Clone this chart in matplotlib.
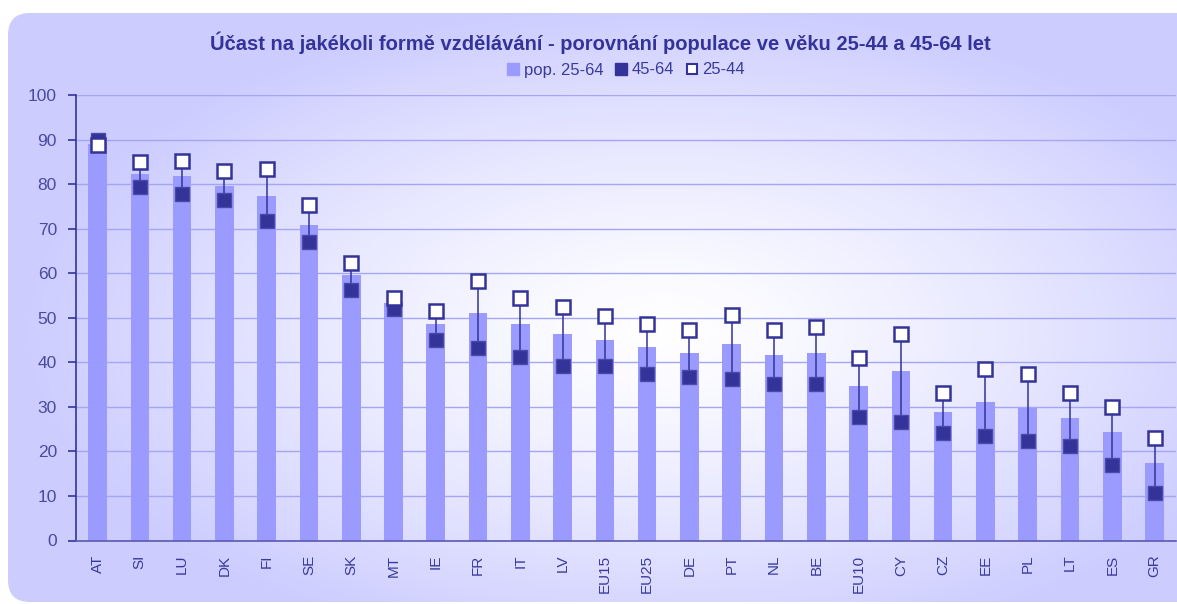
import numpy as np
import matplotlib
matplotlib.use("Agg")
import matplotlib.pyplot as plt
from matplotlib.patches import FancyBboxPatch
from matplotlib.lines import Line2D

# data
zeme = ["AT", "SI", "LU", "DK", "FI", "SE", "SK", "MT", "IE", "FR", "IT", "LV", "EU15",
        "EU25", "DE", "PT", "NL", "BE", "EU10", "CY", "CZ", "EE", "PL", "LT", "ES", "GR"]
pop_25_64 = [89.0, 82.2, 81.8, 79.6, 77.3, 70.8, 59.6, 53.3, 48.5, 51.0, 48.5, 46.3, 44.9,
             43.4, 42.0, 44.0, 41.6, 42.0, 34.6, 38.0, 28.8, 31.2, 29.8, 27.6, 24.3, 17.5]
vek_45_64 = [90.0, 79.3, 77.8, 76.5, 71.7, 66.9, 56.3, 52.0, 45.0, 43.1, 41.3, 39.2, 39.2,
             37.3, 36.6, 36.3, 35.1, 35.1, 27.8, 26.7, 24.2, 23.4, 22.3, 21.2, 16.9, 10.6]
vek_25_44 = [88.8, 84.9, 85.2, 83.0, 83.4, 75.3, 62.2, 54.5, 51.6, 58.2, 54.5, 52.4, 50.5,
             48.7, 47.2, 50.6, 47.2, 47.9, 41.0, 46.4, 33.0, 38.4, 37.4, 33.0, 30.0, 23.1]
y_ticks = [0, 10, 20, 30, 40, 50, 60, 70, 80, 90, 100]

TMAVA = "#333399"
SVETLA = "#9b9bff"
OKRAJ = np.array([204, 204, 255]) / 255.0

plt.rcParams['font.family'] = ['Liberation Sans', 'DejaVu Sans']

W, H = 1177, 604
fig = plt.figure(figsize=(W / 100, H / 100), dpi=100)
fig.patch.set_facecolor("white")

# pozadi - zaoblena plocha s radialnim prechodem
bg = fig.add_axes([0, 0, 1, 1])
bg.set_xlim(0, W)
bg.set_ylim(H, 0)
bg.axis("off")
yy, xx = np.mgrid[0:H, 0:W]
t = np.sqrt(((xx - 660) / 640.0) ** 2 + ((yy - 330) / 330.0) ** 2)
t = np.clip(t, 0, 1) ** 1.3
img = (1 - t)[..., None] * np.array([1.0, 1.0, 1.0]) + t[..., None] * OKRAJ
im = bg.imshow(img, extent=(0, W, H, 0), interpolation="bilinear")
panel = FancyBboxPatch((8, 13), 1200, 589, boxstyle="round,pad=0,rounding_size=22",
                       transform=bg.transData, facecolor="none", edgecolor="none")
bg.add_patch(panel)
im.set_clip_path(panel)

ax = fig.add_axes([76.4 / W, (H - 540.5) / H, (1175.7 - 76.4) / W, (540.5 - 95) / H])
ax.set_facecolor("none")
x = np.arange(len(zeme))

ax.bar(x, pop_25_64, width=0.44, color=SVETLA, zorder=2)
ax.vlines(x, vek_45_64, vek_25_44, color=TMAVA, lw=1.1, zorder=3)
ax.plot(x, vek_45_64, "s", ms=10.5, mfc=TMAVA, mec="#4a4aa8", mew=1, ls="none", zorder=4)
ax.plot(x, vek_25_44, "s", ms=10, mfc="white", mec=TMAVA, mew=1.8, ls="none", zorder=5)

ax.set_xlim(-0.5, len(zeme) - 0.5)
ax.set_ylim(0, 100)
ax.set_yticks(y_ticks)
ax.grid(axis="y", color="#a5a5f5", lw=1, zorder=1)
ax.set_axisbelow(True)
for s in ["top", "right"]:
    ax.spines[s].set_visible(False)
ax.spines["left"].set_color(TMAVA)
ax.spines["bottom"].set_color("#5a5ab0")
ax.spines["left"].set_linewidth(1.2)
ax.spines["bottom"].set_linewidth(1.2)
ax.set_xticks(x)
ax.set_xticklabels(zeme, rotation=90, fontsize=11, color="#3a3a9e")
ax.tick_params(axis="x", length=0, pad=10)
ax.tick_params(axis="y", length=6, width=1.2, color=TMAVA, labelsize=12.5,
               labelcolor="#4a4aa0", pad=8)

fig.text(0.51, 0.93, "Účast na jakékoli formě vzdělávání - porovnání populace ve věku 25-44 a 45-64 let",
         ha="center", va="center", fontsize=14.5, fontweight="bold", color=TMAVA)

handles = [
    Line2D([], [], marker="s", ls="none", ms=8, mfc=SVETLA, mec=SVETLA),
    Line2D([], [], marker="s", ls="none", ms=8, mfc=TMAVA, mec=TMAVA),
    Line2D([], [], marker="s", ls="none", ms=7.5, mfc="white", mec=TMAVA, mew=1.5),
]
leg = fig.legend(handles, ["pop. 25-64", "45-64", "25-44"], loc="center",
                 bbox_to_anchor=(626 / W, 1 - 70 / H), ncol=3, frameon=False,
                 fontsize=12, handlelength=0.7, handletextpad=0.3, columnspacing=0.7)
for txt in leg.get_texts():
    txt.set_color("#3a3a9e")

fig.savefig("out.png", dpi=100)
